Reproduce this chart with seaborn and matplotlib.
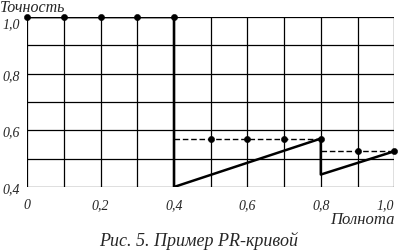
import matplotlib
matplotlib.use('Agg')

import matplotlib.pyplot as plt
import numpy as np
import pandas as pd
import seaborn as sns

sns.set_style("white")
plt.rcParams['font.family'] = ['Liberation Serif', 'DejaVu Serif']

# исходная PR-кривая
recall_raw = [0.0, 0.1, 0.2, 0.3, 0.4, 0.4, 0.8, 0.8, 1.0]
precision_raw = [1.0, 1.0, 1.0, 1.0, 1.0, 0.4, 0.571, 0.444, 0.526]

# интерполированные точки
recall_pts = [0.0, 0.1, 0.2, 0.3, 0.4, 0.5, 0.6, 0.7, 0.8, 0.9, 1.0]
precision_pts = [1.0, 1.0, 1.0, 1.0, 1.0, 0.571, 0.571, 0.571, 0.571, 0.526, 0.526]

# пунктир интерполяции
dash1_x = [0.4, 0.8]
dash1_y = [0.571, 0.571]
dash2_x = [0.8, 1.0]
dash2_y = [0.526, 0.526]

x_ticks = [0.0, 0.2, 0.4, 0.6, 0.8, 1.0]
x_labels = ['0', '0,2', '0,4', '0,6', '0,8', '1,0']
y_ticks = [0.4, 0.6, 0.8, 1.0]
y_labels = ['0,4', '0,6', '0,8', '1,0']

fig = plt.figure(figsize=(3.99, 2.51), dpi=100)
ax = fig.add_axes([0.068, 0.251, 0.92, 0.677])

raw = pd.DataFrame({'recall': recall_raw, 'precision': precision_raw})
pts = pd.DataFrame({'recall': recall_pts, 'precision': precision_pts})

ax.plot(dash1_x, dash1_y, color='black', linestyle='--', linewidth=1, dashes=(4, 2))
ax.plot(dash2_x, dash2_y, color='black', linestyle='--', linewidth=1, dashes=(4, 2))
sns.lineplot(data=raw, x='recall', y='precision', sort=False, estimator=None,
             color='black', linewidth=1.8, ax=ax)
sns.scatterplot(data=pts, x='recall', y='precision', color='black', s=20,
                edgecolor='black', zorder=5, clip_on=False, ax=ax)

ax.set_xlim(0, 1.0)
ax.set_ylim(0.4, 1.0)
ax.set_xticks(np.arange(0, 1.01, 0.1), minor=True)
ax.set_yticks(np.arange(0.4, 1.01, 0.1), minor=True)
ax.grid(True, which='both', color='black', linewidth=0.9)
ax.set_xticks(x_ticks)
ax.set_xticklabels(x_labels, fontsize=10, style='italic')
ax.set_yticks(y_ticks)
ax.set_yticklabels(y_labels, fontsize=10, style='italic')
ax.tick_params(axis='x', which='both', length=0, pad=8)
ax.tick_params(axis='y', which='both', length=0, pad=5)
ax.get_xticklabels()[-1].set_horizontalalignment('right')
ax.get_yticklabels()[-1].set_verticalalignment('top')
for s in ax.spines.values():
    s.set_visible(False)
ax.set_xlabel('')
ax.set_ylabel('')

fig.text(0.0, 1.0, 'Точность', fontsize=11.5, style='italic', va='top', ha='left')
fig.text(0.99, 0.124, 'Полнота', fontsize=12, style='italic', va='center', ha='right')
fig.text(0.497, 0.04, 'Рис. 5. Пример PR-кривой', fontsize=13, style='italic',
         va='center', ha='center')

plt.savefig('out.png', dpi=100)
